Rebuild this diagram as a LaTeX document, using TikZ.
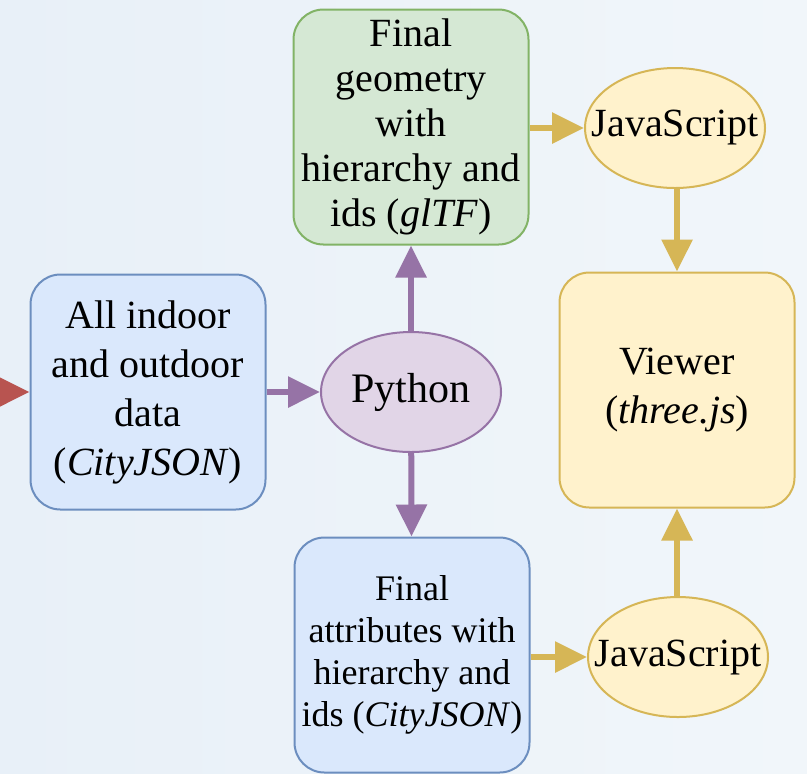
\documentclass[tikz,border=0pt]{standalone}
\usepackage{fontspec}
\setmainfont{Liberation Serif}
\usetikzlibrary{positioning}
\usetikzlibrary{shapes.geometric}
\usetikzlibrary{arrows.meta}

\definecolor{bluefill}{HTML}{DAE8FC}
\definecolor{blueline}{HTML}{6C8EBF}
\definecolor{greenfill}{HTML}{D5E8D4}
\definecolor{greenline}{HTML}{82B366}
\definecolor{yellowfill}{HTML}{FFF2CC}
\definecolor{yellowline}{HTML}{D6B656}
\definecolor{purplefill}{HTML}{E1D5E7}
\definecolor{purpleline}{HTML}{9673A6}
\definecolor{redline}{HTML}{B85450}
\definecolor{bgleft}{HTML}{E8F0F8}
\definecolor{bgright}{HTML}{F1F6FA}

\tikzset{
    textfont/.style={font=\fontsize{20}{24.5}\selectfont},
    tightfont/.style={font=\fontsize{20}{22.5}\selectfont},
    smallfont/.style={font=\fontsize{18}{21}\selectfont},
    box/.style={draw,rounded corners=15pt,line width=1pt,
        minimum width=117.5pt,minimum height=117.5pt,
        inner xsep=0pt,inner ysep=2pt,align=center,textfont},
    oval/.style={ellipse,draw,line width=1pt,
        minimum width=90pt,minimum height=60pt,
        inner xsep=-10pt,inner ysep=0pt,textfont},
    flow/.style={line width=3pt,-{Triangle[length=16pt,width=15pt]}}
}

\begin{document}
\begin{tikzpicture}[x=0.5pt,y=-0.5pt]
                \useasboundingbox (0,0) rectangle (807,773);
                \shade[left color=bgleft,right color=bgright] (0,0) rectangle (807,773);
                \node[box,fill=bluefill,draw=blueline] (alldata) at (148,392)
                    {All indoor\\and outdoor\\data\\(\textit{CityJSON})};
                \node[oval,fill=purplefill,draw=purpleline,
                    font=\fontsize{21}{24.5}\selectfont] (python) at (411,392) {Python};
                \node[box,tightfont,fill=greenfill,draw=greenline] (geometry) at (411,127)
                    {Final\\geometry\\with\\hierarchy and\\ids (\textit{glTF})};
                \node[box,smallfont,fill=bluefill,draw=blueline] (attributes) at (412,655)
                    {Final\\attributes with\\hierarchy and\\ids (\textit{CityJSON})};
                \node[oval,fill=yellowfill,draw=yellowline] (jstop) at (675,128) {JavaScript};
                \node[oval,fill=yellowfill,draw=yellowline] (jsbottom) at (678,657) {JavaScript};
                \node[box,fill=yellowfill,draw=yellowline] (viewer) at (677,390)
                    {Viewer\\(\textit{three.js})};
                \coordinate (source) at (-60,392);
                \draw[flow,redline] (source) -- (alldata.west);
                \foreach \From/\To in {
                    alldata/python,python/geometry,python/attributes}
                    \draw[flow,purpleline] (\From) -- (\To);
                \draw[flow,yellowline] (geometry.east|-jstop) -- (jstop.west);
                \draw[flow,yellowline] (attributes.east|-jsbottom) -- (jsbottom.west);
                \draw[flow,yellowline] (jstop.south-|viewer) -- (viewer.north);
                \draw[flow,yellowline] (jsbottom.north-|viewer) -- (viewer.south);
            \end{tikzpicture}
\end{document}
